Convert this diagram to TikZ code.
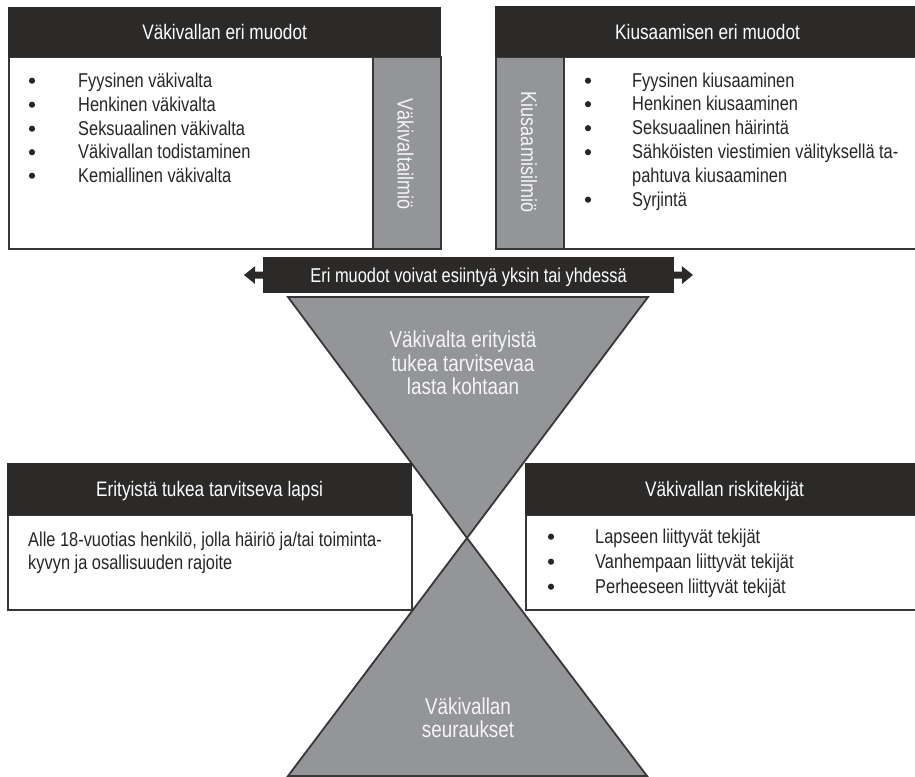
\documentclass[tikz,border=0pt]{standalone}
\usepackage{fontspec}
\setmainfont{Liberation Sans}[FakeStretch=0.82]
\usetikzlibrary{arrows.meta}
\definecolor{darkhd}{RGB}{43,42,41}
\definecolor{stripgray}{RGB}{147,149,152}
\definecolor{edgegray}{RGB}{55,55,55}
\definecolor{lighttxt}{RGB}{245,245,245}
\begin{document}
\begin{tikzpicture}[x=1pt,y=-1pt,
  hdr/.style={fill=darkhd, draw=darkhd, line width=1.2pt, inner sep=0pt, anchor=north west,
    text=white, font=\fontsize{21}{24}\selectfont, text height=15.6pt, text depth=0pt},
  bodybox/.style={fill=white, draw=edgegray, line width=1.8pt, inner sep=0pt, anchor=north west},
  stripbox/.style={fill=stripgray, draw=edgegray, line width=1.8pt, inner sep=0pt, anchor=north west},
  striptxt/.style={text=lighttxt, font=\fontsize{22}{24}\selectfont, rotate=-90, inner sep=0pt},
  item/.style={inner sep=0pt, anchor=base west, font=\fontsize{20}{24}\selectfont, text=black!85},
  tritxt/.style={inner sep=0pt, anchor=base, font=\fontsize{23}{24}\selectfont, text=lighttxt},
  tri/.style={fill=stripgray, draw=edgegray, line width=1.8pt, line join=miter},
  dbl/.style={draw=darkhd, line width=7pt, -{Triangle[length=11pt,width=17pt]}},
  dot/.style={fill=black!85}
]
\useasboundingbox (0,0) rectangle (915,776);

% triangles
\coordinate (apex) at (467,538);
\coordinate (utl) at (288,297);
\coordinate (utr) at (648,297);
\coordinate (lbl) at (288,776);
\coordinate (lbr) at (647,776);
\draw[tri] (utl) -- (utr) -- (apex) -- cycle;
\draw[tri] (apex) -- (lbr) -- (lbl) -- cycle;

% double arrow bar
\coordinate (ltip) at (244,275);
\coordinate (rtip) at (693,275);
\node[hdr, font=\fontsize{20}{24}\selectfont, text height=15pt, minimum width=410pt, minimum height=35pt] (bar) at (263,257) {Eri muodot voivat esiintyä yksin tai yhdessä};
\draw[dbl] (bar.west) -- (ltip);
\draw[dbl] (bar.east) -- (rtip);

% top-left box
\node[bodybox, minimum width=364pt, minimum height=192pt] (b1) at (8,56) {};
\node[stripbox, minimum width=68pt, minimum height=192pt] (s1) at (372,56) {};
\node[hdr, minimum width=432pt, minimum height=49pt] (h1) at (8,7) {Väkivallan eri muodot};
\node[striptxt] (s1t) at (405.5,154) {Väkivaltailmiö};
\node[item] (i11) at (78,87) {Fyysinen väkivalta};
\node[item] (i12) at (78,111) {Henkinen väkivalta};
\node[item] (i13) at (78,135) {Seksuaalinen väkivalta};
\node[item] (i14) at (78,158.5) {Väkivallan todistaminen};
\node[item] (i15) at (78,182) {Kemiallinen väkivalta};
\foreach \yy in {87,111,135,158.5,182} \fill[dot] (32,\yy-6.3) circle (3.1pt);

% top-right box
\node[bodybox, minimum width=360pt, minimum height=192pt] (b2) at (563,56) {};
\node[stripbox, minimum width=68pt, minimum height=192pt] (s2) at (495,56) {};
\node[hdr, minimum width=424pt, minimum height=50pt] (h2) at (495,6) {Kiusaamisen eri muodot};
\node[striptxt] (s2t) at (529,152) {Kiusaamisilmiö};
\node[item] (i21) at (632,87) {Fyysinen kiusaaminen};
\node[item] (i22) at (632,110.5) {Henkinen kiusaaminen};
\node[item] (i23) at (632,134.5) {Seksuaalinen häirintä};
\node[item] (i24) at (632,158.5) {Sähköisten viestimien välityksellä ta-};
\node[item] (i24b) at (632,182) {pahtuva kiusaaminen};
\node[item] (i25) at (632,206) {Syrjintä};
\foreach \yy in {87,110.5,134.5,158.5,206} \fill[dot] (588,\yy-6.3) circle (3.1pt);

% triangle texts
\node[tritxt] (u1) at (463,347) {Väkivalta erityistä};
\node[tritxt] (u2) at (463,371) {tukea tarvitsevaa};
\node[tritxt] (u3) at (463,394) {lasta kohtaan};
\node[tritxt] (l1) at (468,714) {Väkivallan};
\node[tritxt] (l2) at (468,737) {seuraukset};

% bottom-left box
\node[bodybox, minimum width=404pt, minimum height=95pt] (b3) at (7,514) {};
\node[hdr, minimum width=404pt, minimum height=51pt] (h3) at (7,463) {Erityistä tukea tarvitseva lapsi};
\node[item] (t31) at (28,546) {Alle 18-vuotias henkilö, jolla häiriö ja/tai toiminta-};
\node[item] (t32) at (28,569.5) {kyvyn ja osallisuuden rajoite};

% bottom-right box
\node[bodybox, minimum width=398pt, minimum height=95pt] (b4) at (525,514) {};
\node[hdr, minimum width=398pt, minimum height=51pt] (h4) at (525,463) {Väkivallan riskitekijät};
\node[item] (i41) at (595,543) {Lapseen liittyvät tekijät};
\node[item] (i42) at (595,568) {Vanhempaan liittyvät tekijät};
\node[item] (i43) at (595,593) {Perheeseen liittyvät tekijät};
\foreach \yy in {543,568,593} \fill[dot] (551,\yy-6.3) circle (3.1pt);
\end{tikzpicture}
\end{document}
